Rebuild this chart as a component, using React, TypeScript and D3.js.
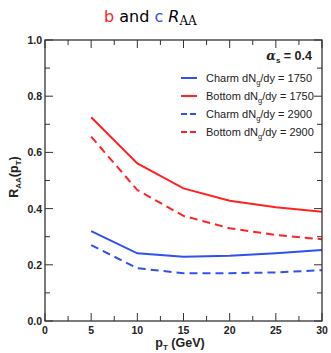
import React from "react";
import * as d3 from "d3";

const ptValues = [5, 10, 15, 20, 25, 30];
const charm1750 = [0.32, 0.241, 0.229, 0.232, 0.241, 0.253];
const bottom1750 = [0.725, 0.561, 0.472, 0.428, 0.405, 0.389];
const charm2900 = [0.27, 0.188, 0.17, 0.17, 0.173, 0.181];
const bottom2900 = [0.656, 0.466, 0.374, 0.33, 0.306, 0.291];
const seriesFlavors = ["Charm", "Bottom", "Charm", "Bottom"];
const seriesMult = ["1750", "1750", "2900", "2900"];
const xTicks = [0, 5, 10, 15, 20, 25, 30];
const yTicks = [0, 0.2, 0.4, 0.6, 0.8, 1.0];

const RED = "#ff2222";
const BLUE = "#3050f0";
const AXIS = "#333";

export default function App() {
  const W = 331, H = 353;
  const x = d3.scaleLinear().domain([0, 30]).range([45, 322]);
  const y = d3.scaleLinear().domain([0, 1]).range([321, 40]);
  const line = d3
    .line<number>()
    .x((_, i) => x(ptValues[i]))
    .y((d) => y(d));

  const series = [
    { vals: charm1750, color: BLUE, dash: undefined },
    { vals: bottom1750, color: RED, dash: undefined },
    { vals: charm2900, color: BLUE, dash: "8,5" },
    { vals: bottom2900, color: RED, dash: "8,5" },
  ];

  const xMinor = d3.range(0, 30.01, 2.5);
  const yMinor = d3.range(0, 1.001, 0.1);
  const font = "'Liberation Sans', Arial, Helvetica, sans-serif";

  return (
    <svg width={W} height={H} style={{ position: "absolute", left: 0, top: 0 }}>
      <rect width={W} height={H} fill="white" />
      {/* title */}
      <text x={104} y={22} fontFamily="'DejaVu Sans', sans-serif" fontSize={16}>
        <tspan fill={RED}>b</tspan>
        <tspan fill="#000"> and </tspan>
        <tspan fill={BLUE}>c</tspan>
        <tspan fill="#000"> </tspan>
        <tspan fill="#000" fontStyle="italic">R</tspan>
        <tspan fill="#000" fontFamily="'DejaVu Serif', serif" fontSize={12} dy={3}>AA</tspan>
      </text>

      {/* series */}
      {series.map((s, i) => (
        <path
          key={i}
          d={line(s.vals) || ""}
          fill="none"
          stroke={s.color}
          strokeWidth={2}
          strokeDasharray={s.dash}
        />
      ))}

      {/* frame */}
      <rect x={45} y={40} width={277} height={281} fill="none" stroke={AXIS} strokeWidth={1.3} />

      {/* ticks */}
      {xMinor.map((v, i) => {
        const major = Math.abs(v % 5) < 1e-6;
        const len = major ? 8 : 5;
        return (
          <g key={"xt" + i}>
            <line x1={x(v)} x2={x(v)} y1={321} y2={321 - len} stroke={AXIS} strokeWidth={1} />
            <line x1={x(v)} x2={x(v)} y1={40} y2={40 + len} stroke={AXIS} strokeWidth={1} />
          </g>
        );
      })}
      {yMinor.map((v, i) => {
        const major = i % 2 === 0;
        const len = major ? 8 : 5;
        return (
          <g key={"yt" + i}>
            <line x1={45} x2={45 + len} y1={y(v)} y2={y(v)} stroke={AXIS} strokeWidth={1} />
            <line x1={322} x2={322 - len} y1={y(v)} y2={y(v)} stroke={AXIS} strokeWidth={1} />
          </g>
        );
      })}

      {/* tick labels */}
      {xTicks.map((v) => (
        <text key={"xl" + v} x={x(v)} y={334} textAnchor="middle" fontFamily={font} fontWeight="bold" fontSize={10.5} fill="#222">
          {v}
        </text>
      ))}
      {yTicks.map((v) => (
        <text key={"yl" + v} x={42} y={y(v) + 4} textAnchor="end" fontFamily={font} fontWeight="bold" fontSize={10.5} fill="#222">
          {v.toFixed(1)}
        </text>
      ))}

      {/* axis labels */}
      <text x={180} y={347} textAnchor="middle" fontFamily={font} fontWeight="bold" fontSize={12.5} fill="#222">
        <tspan>p</tspan>
        <tspan fontSize={8} dy={3}>T</tspan>
        <tspan dy={-3}> (GeV)</tspan>
      </text>
      <text
        transform={`translate(18,177) rotate(-90)`}
        textAnchor="middle"
        fontFamily={font}
        fontWeight="bold"
        fontSize={12.5}
        fill="#222"
      >
        <tspan>R</tspan>
        <tspan fontSize={8} dy={3}>AA</tspan>
        <tspan dy={-3}>(p</tspan>
        <tspan fontSize={8} dy={3}>T</tspan>
        <tspan dy={-3}>)</tspan>
      </text>

      {/* alpha_s label */}
      <text x={312} y={60} textAnchor="end" fontFamily={font} fontWeight="bold" fontSize={12.5} fill="#222">
        <tspan fontFamily="'DejaVu Serif', serif" fontStyle="italic">α</tspan>
        <tspan fontSize={8} dy={3}>s</tspan>
        <tspan dy={-3}> = 0.4</tspan>
      </text>

      {/* legend */}
      {series.map((s, i) => {
        const ly = 78 + i * 18;
        return (
          <g key={"lg" + i}>
            <line x1={181} x2={197} y1={ly} y2={ly} stroke={s.color} strokeWidth={2} strokeDasharray={s.dash ? "6,3" : undefined} />
            <text x={206} y={ly + 4} fontFamily={font} fontSize={11} fill="#222">
              <tspan>{seriesFlavors[i]} dN</tspan>
              <tspan fontSize={7.5} dy={3}>g</tspan>
              <tspan dy={-3}>/dy = {seriesMult[i]}</tspan>
            </text>
          </g>
        );
      })}
    </svg>
  );
}
